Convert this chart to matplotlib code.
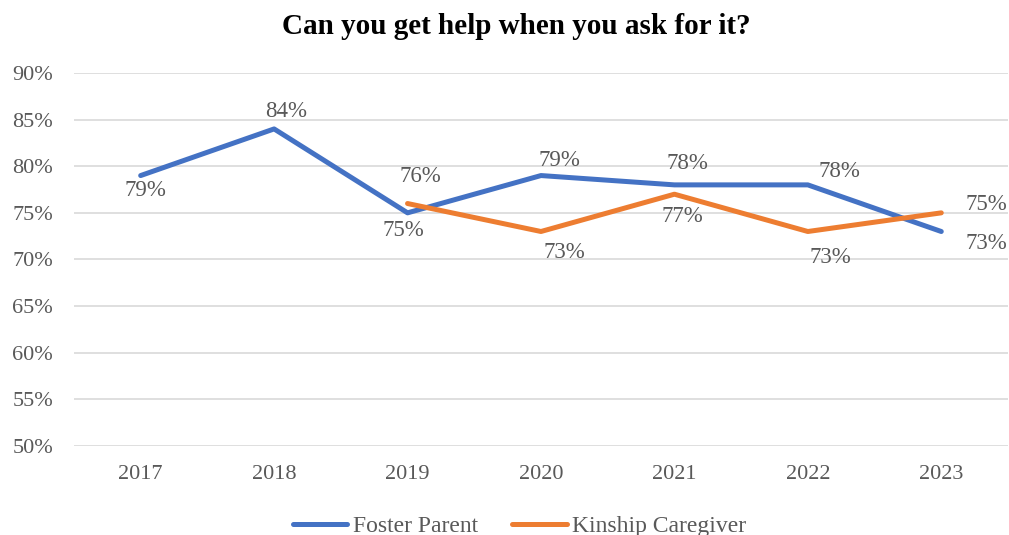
import matplotlib.pyplot as plt

years = ["2017", "2018", "2019", "2020", "2021", "2022", "2023"]
foster = [79, 84, 75, 79, 78, 78, 73]
kinship = [None, None, 76, 73, 77, 73, 75]

# label offsets (pixels) for each point
foster_offsets = [(5, -15), (12, 17), (-4, -18), (18, 15), (13, 21), (32, 13), (45, -12)]
kinship_offsets = [None, None, (13, 27), (23, -21), (8, -22), (23, -26), (45, 8)]

BLUE = "#4472C4"
ORANGE = "#ED7D31"
GREY = "#595959"

plt.rcParams["font.family"] = ["Liberation Serif", "DejaVu Serif"]

fig = plt.figure(figsize=(10.09, 5.35), dpi=100)
ax = fig.add_axes([0.0733, 0.1664, 0.9257, 0.6972])

x = list(range(len(years)))
ax.plot(x, foster, color=BLUE, lw=3.6, label="Foster Parent", solid_capstyle="round")
kx = [i for i, v in enumerate(kinship) if v is not None]
kv = [v for v in kinship if v is not None]
ax.plot(kx, kv, color=ORANGE, lw=3.6, label="Kinship Caregiver", solid_capstyle="round")

for i, v in enumerate(foster):
    ax.annotate(f"{v}%", (i, v), xytext=foster_offsets[i], textcoords="offset pixels",
                ha="center", va="center", fontsize=16.5, color=GREY)
for i, v in enumerate(kinship):
    if v is None:
        continue
    ax.annotate(f"{v}%", (i, v), xytext=kinship_offsets[i], textcoords="offset pixels",
                ha="center", va="center", fontsize=16.5, color=GREY)

ax.set_xlim(-0.5, len(years) - 0.5)
ax.set_ylim(50, 90)
ax.set_yticks(range(50, 91, 5))
ax.set_yticklabels([f"{t}%" for t in range(50, 91, 5)])
ax.set_xticks(x)
ax.set_xticklabels(years)
ax.tick_params(length=0, labelsize=16, colors=GREY)
ax.tick_params(axis="x", pad=14)
ax.tick_params(axis="y", pad=15)
ax.grid(axis="y", color="#D9D9D9", lw=1.2)
ax.set_axisbelow(True)
for s in ax.spines.values():
    s.set_visible(False)

fig.suptitle("Can you get help when you ask for it?", x=0.512, y=0.95, va="center",
             fontsize=21, fontweight="bold")
fig.legend(loc="center", bbox_to_anchor=(0.515, 1 - 526 / 535), ncol=2, frameon=False,
           fontsize=17, handlelength=2.3, handletextpad=0.25, columnspacing=1.45,
           labelcolor=GREY)

fig.savefig("out.png", dpi=100)
